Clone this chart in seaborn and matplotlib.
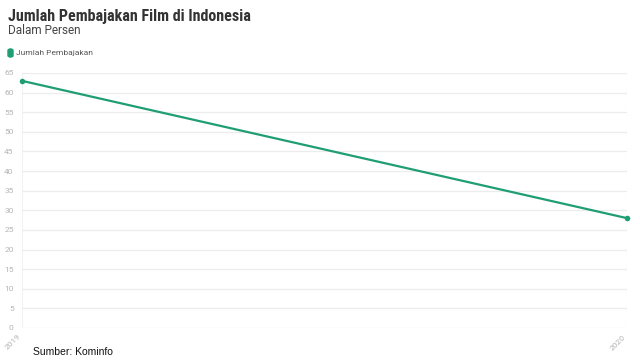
import matplotlib
matplotlib.use("Agg")
import matplotlib.pyplot as plt
import seaborn as sns
import pandas as pd
from matplotlib.patches import FancyBboxPatch

years = ["2019", "2020"]
piracy = [63, 28]
series_name = "Jumlah Pembajakan"
y_ticks = list(range(0, 70, 5))

df = pd.DataFrame({"Tahun": years, "Persen": piracy})
df["pos"] = range(len(df))

sns.set_theme(style="white")
plt.rcParams["font.family"] = ["Roboto", "DejaVu Sans"]

green = "#1f9e74"
fig = plt.figure(figsize=(6.4, 3.61), dpi=100)
ax = fig.add_axes([22 / 640, 1 - 328 / 361, (627 - 22) / 640, (328 - 73) / 361])

sns.lineplot(data=df, x="pos", y="Persen", ax=ax, color=green, linewidth=1.6,
             marker="o", markersize=4, markeredgewidth=0, legend=False)
for ln in ax.lines:
    ln.set_clip_on(False)

ax.set_xlim(0, len(df) - 1)
ax.set_ylim(0, 65)
ax.set_yticks(y_ticks)
ax.set_yticklabels([str(t) for t in y_ticks], color="#b5b5b5", fontsize=6)
ax.set_xticks(df["pos"])
ax.set_xticklabels(years, rotation=45, ha="right", color="#b5b5b5", fontsize=6)
ax.tick_params(axis="y", length=0, pad=6)
ax.tick_params(axis="x", length=3, color="#e0e0e0", pad=1)
ax.grid(axis="y", color="#ececec", linewidth=0.9)
ax.grid(axis="x", color="#f2f2f2", linewidth=0.8)
ax.set_axisbelow(True)
for s in ax.spines.values():
    s.set_visible(False)
ax.set_xlabel("")
ax.set_ylabel("")

fig.text(8 / 640, 1 - 16 / 361, "Jumlah Pembajakan Film di Indonesia", fontsize=11.5,
         fontweight="bold", color="#333333", va="center", family=["Roboto Condensed", "Roboto", "DejaVu Sans"])
fig.text(8 / 640, 1 - 31 / 361, "Dalam Persen", fontsize=8.5, color="#444444", va="center")
fig.patches.append(FancyBboxPatch((8 / 640, 1 - 57 / 361), 5 / 640, 8 / 361,
                                  boxstyle="round,pad=0,rounding_size=0.004",
                                  transform=fig.transFigure, color=green, figure=fig))
fig.text(16 / 640, 1 - 53 / 361, series_name, fontsize=6, color="#555555", va="center")
fig.text(33 / 640, 1 - 352 / 361, "Sumber: Kominfo", fontsize=7.5, color="#111111",
         va="center", family=["Liberation Sans", "DejaVu Sans"])

fig.savefig("out.png", dpi=100)
